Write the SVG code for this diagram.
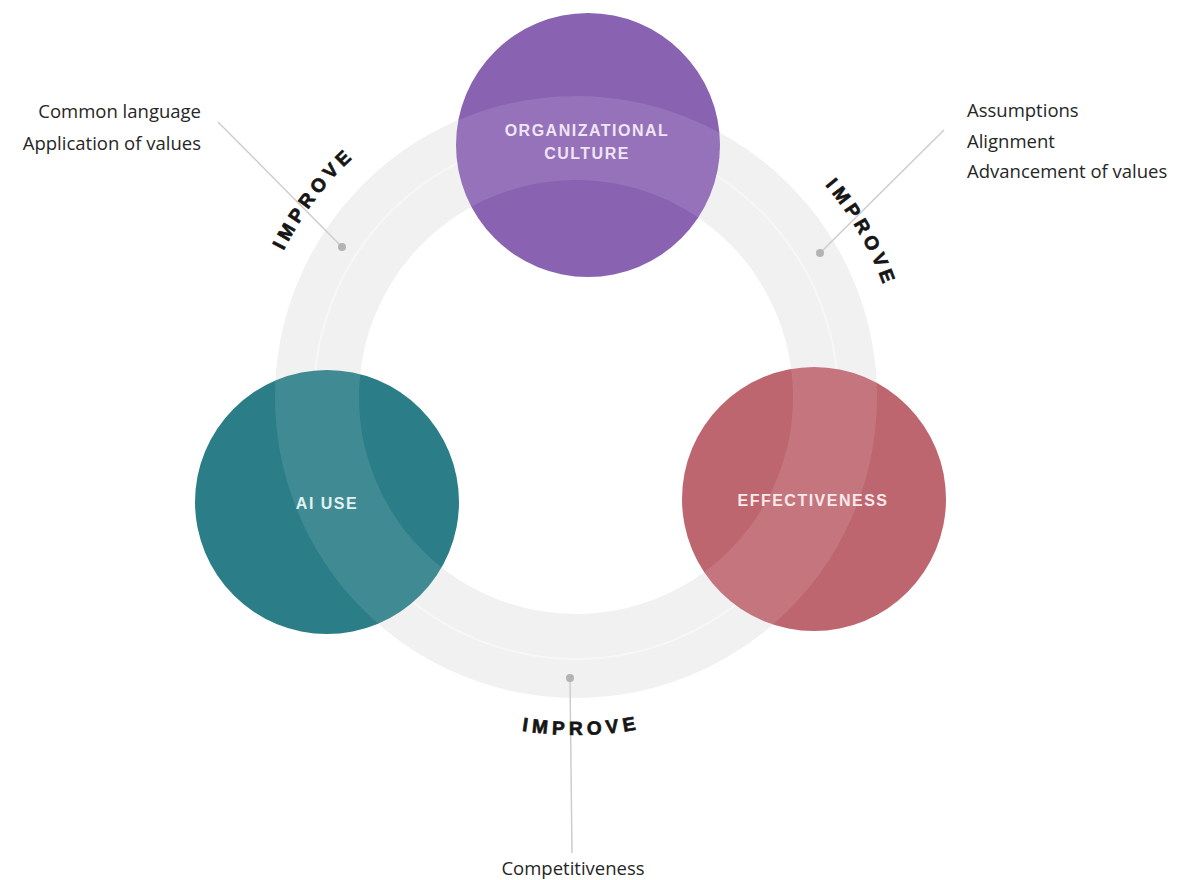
<svg xmlns="http://www.w3.org/2000/svg" width="1179" height="880" viewBox="0 0 1179 880">
  <style>
    .ring-base { fill: none; stroke: #f0f0f0; stroke-width: 84; }
    .ring-split { fill: none; stroke: #ffffff; stroke-opacity: 0.4; stroke-width: 2; }
    .ring-tint { fill: none; stroke: #ffffff; stroke-opacity: 0.1; stroke-width: 84; }
    .leader { stroke: #cdcdcd; stroke-width: 1.5; fill: none; }
    .pin { fill: #b3b3b3; }
    .note { font-family: "Open Sans", "Liberation Sans", Arial, sans-serif; font-size: 18.5px; fill: #262626; }
    .improve { font-family: "Liberation Sans", Arial, sans-serif; font-weight: 700; font-size: 19px; letter-spacing: 4.6px; fill: #151515; stroke: #151515; stroke-width: 0.7; }
    .node-label { font-family: "Liberation Sans", Arial, sans-serif; font-weight: 700; font-size: 16px; letter-spacing: 1.5px; text-anchor: middle; }
  </style>
  <defs>
    <!-- arcs used to bend the IMPROVE labels around the cycle -->
    <path id="arc-top" d="M 249 397 A 327 327 0 0 1 903 397"/>
    <path id="arc-bottom" d="M 238 397 A 338 338 0 0 0 914 397"/>
  </defs>

  <rect width="1179" height="880" fill="#ffffff"/>

  <!-- cycle ring behind the nodes -->
  <g id="cycle-ring">
    <circle class="ring-base" cx="576" cy="397" r="259"/>
    <circle class="ring-split" cx="576" cy="397" r="262"/>
  </g>

  <g id="node-culture">
    <circle cx="588" cy="145" r="132" fill="#8962b1"/>
  </g>
  <g id="node-ai-use">
    <circle cx="327" cy="502" r="132" fill="#2b7e87"/>
  </g>
  <g id="node-effectiveness">
    <circle cx="814" cy="499" r="132" fill="#be6670"/>
  </g>

  <!-- translucent ring passing over the nodes -->
  <g id="cycle-ring-overlay">
    <circle class="ring-tint" cx="576" cy="397" r="259"/>
  </g>

  <g id="node-labels">
    <text class="node-label" x="587" y="136" fill="#efe5f4">ORGANIZATIONAL</text>
    <text class="node-label" x="587" y="159" fill="#efe5f4">CULTURE</text>
    <text class="node-label" x="327" y="509" fill="#e2f1f3">AI USE</text>
    <text class="node-label" x="813" y="506" fill="#fbe9ea">EFFECTIVENESS</text>
  </g>

  <g id="connectors">
    <line class="leader" x1="218" y1="122" x2="342" y2="247"/>
    <line class="leader" x1="944" y1="130" x2="820" y2="253"/>
    <line class="leader" x1="570" y1="678" x2="572" y2="853"/>
    <circle class="pin" cx="342" cy="247" r="4"/>
    <circle class="pin" cx="820" cy="253" r="4"/>
    <circle class="pin" cx="570" cy="678" r="4"/>
  </g>

  <g id="improve-labels">
    <text class="improve" text-anchor="middle"><textPath href="#arc-top" startOffset="20.6%">IMPROVE</textPath></text>
    <text class="improve" text-anchor="middle"><textPath href="#arc-top" startOffset="83.4%">IMPROVE</textPath></text>
    <text class="improve" text-anchor="middle"><textPath href="#arc-bottom" startOffset="50.5%">IMPROVE</textPath></text>
  </g>

  <g id="notes-left">
    <text class="note" x="201" y="118" text-anchor="end">Common language</text>
    <text class="note" x="201" y="150" text-anchor="end">Application of values</text>
  </g>
  <g id="notes-right">
    <text class="note" x="967" y="117">Assumptions</text>
    <text class="note" x="967" y="148">Alignment</text>
    <text class="note" x="967" y="178">Advancement of values</text>
  </g>
  <g id="notes-bottom">
    <text class="note" x="573" y="875" text-anchor="middle">Competitiveness</text>
  </g>
</svg>
